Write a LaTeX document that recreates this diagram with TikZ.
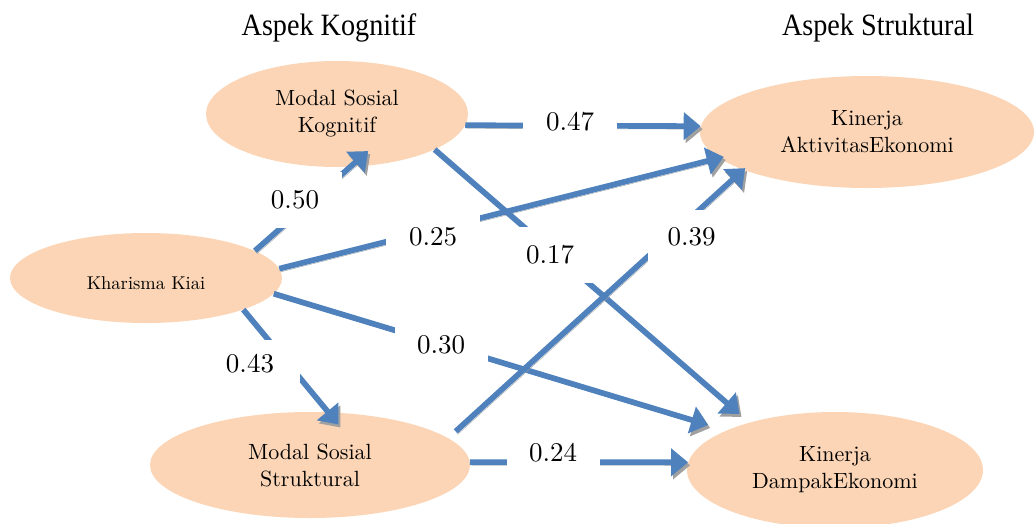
\documentclass[tikz,border=0pt]{standalone}
\usepackage{fontspec}
\setmainfont{lmroman10-regular.otf}
\newfontfamily\titlefont[FakeStretch=0.91]{Liberation Serif}
\usetikzlibrary{arrows.meta,shapes.geometric}
\definecolor{peach}{HTML}{FBD5B5}
\definecolor{arrowblue}{HTML}{4F81BD}
\definecolor{shadowgray}{HTML}{A0A0A0}
\tikzset{
  factor/.style={ellipse, fill=peach, draw=none, inner sep=0pt, align=center,
    font=\fontsize{22}{27}\selectfont},
  link/.style={draw=arrowblue, line width=5.7pt, -{Triangle[length=17pt,width=27pt]},
    preaction={draw=shadowgray, transform canvas={xshift=2pt,yshift=-3pt}}},
  coef/.style={fill=white, inner sep=0pt, font=\fontsize{27}{32}\selectfont},
  title/.style={font=\titlefont\fontsize{31}{36}\selectfont, anchor=base}
}
\begin{document}
\begin{tikzpicture}[x=1pt,y=-1pt]
\useasboundingbox (0,0) rectangle (1034,523);
% factors
\node[factor, minimum width=262pt, minimum height=106pt] (MSK) at (337,114) {Modal Sosial\\Kognitif};
\node[factor, minimum width=272pt, minimum height=90pt, font=\fontsize{18.5}{24}\selectfont] (KK) at (146,278) {\raisebox{-11pt}[0pt][0pt]{Kharisma Kiai}};
\node[factor, minimum width=320pt, minimum height=106pt] (MSS) at (310,465) {Modal Sosial\\Struktural};
\node[factor, minimum width=334pt, minimum height=112pt] (KAE) at (867,132) {Kinerja\\AktivitasEkonomi};
\node[factor, minimum width=296pt, minimum height=116pt] (KDE) at (835,470) {Kinerja\\DampakEkonomi};
% links
\draw[link] (MSK.-5) -- (KAE.178);
\draw[link, shorten >=-24pt] (KK.14) -- (MSK.-76);
\draw[link, shorten >=-5pt] (KK.4.7) -- (KAE.-170.8);
\draw[link, shorten >=19pt] (KK.-7.9) -- (KDE.160.1);
\draw[link, shorten >=-16pt] (KK.-18.6) -- (MSS.71.3);
\draw[link, shorten >=13pt] (MSK.-20.2) -- (KDE.151.5);
\draw[link, shorten <=10pt, shorten >=-2.5pt] (MSS.11.8) -- (KAE.-163.6);
\draw[link] (MSS.1.1) -- (KDE.177.7);
% coefficients
\node[coef, minimum width=94pt, minimum height=44pt] (c47) at (570,122) {0.47};
\node[coef, minimum width=94pt, minimum height=56pt] (c50) at (295,200) {0.50};
\node[coef, minimum width=94pt, minimum height=50pt] (c25) at (433,237) {0.25};
\node[coef, minimum width=88pt, minimum height=56pt] (c17) at (550,255) {0.17};
\node[coef, minimum width=87pt, minimum height=54pt] (c39) at (691.5,237) {0.39};
\node[coef, minimum width=93pt, minimum height=44pt] (c30) at (441,345) {0.30};
\node[coef, minimum width=100pt, minimum height=48pt] (c43) at (250,364) {0.43};
\node[coef, minimum width=93pt, minimum height=44pt] (c24) at (553,453) {0.24};
% titles
\node[title] (t1) at (329,35) {Aspek Kognitif};
\node[title] (t2) at (878,35) {Aspek Struktural};
\end{tikzpicture}
\end{document}
